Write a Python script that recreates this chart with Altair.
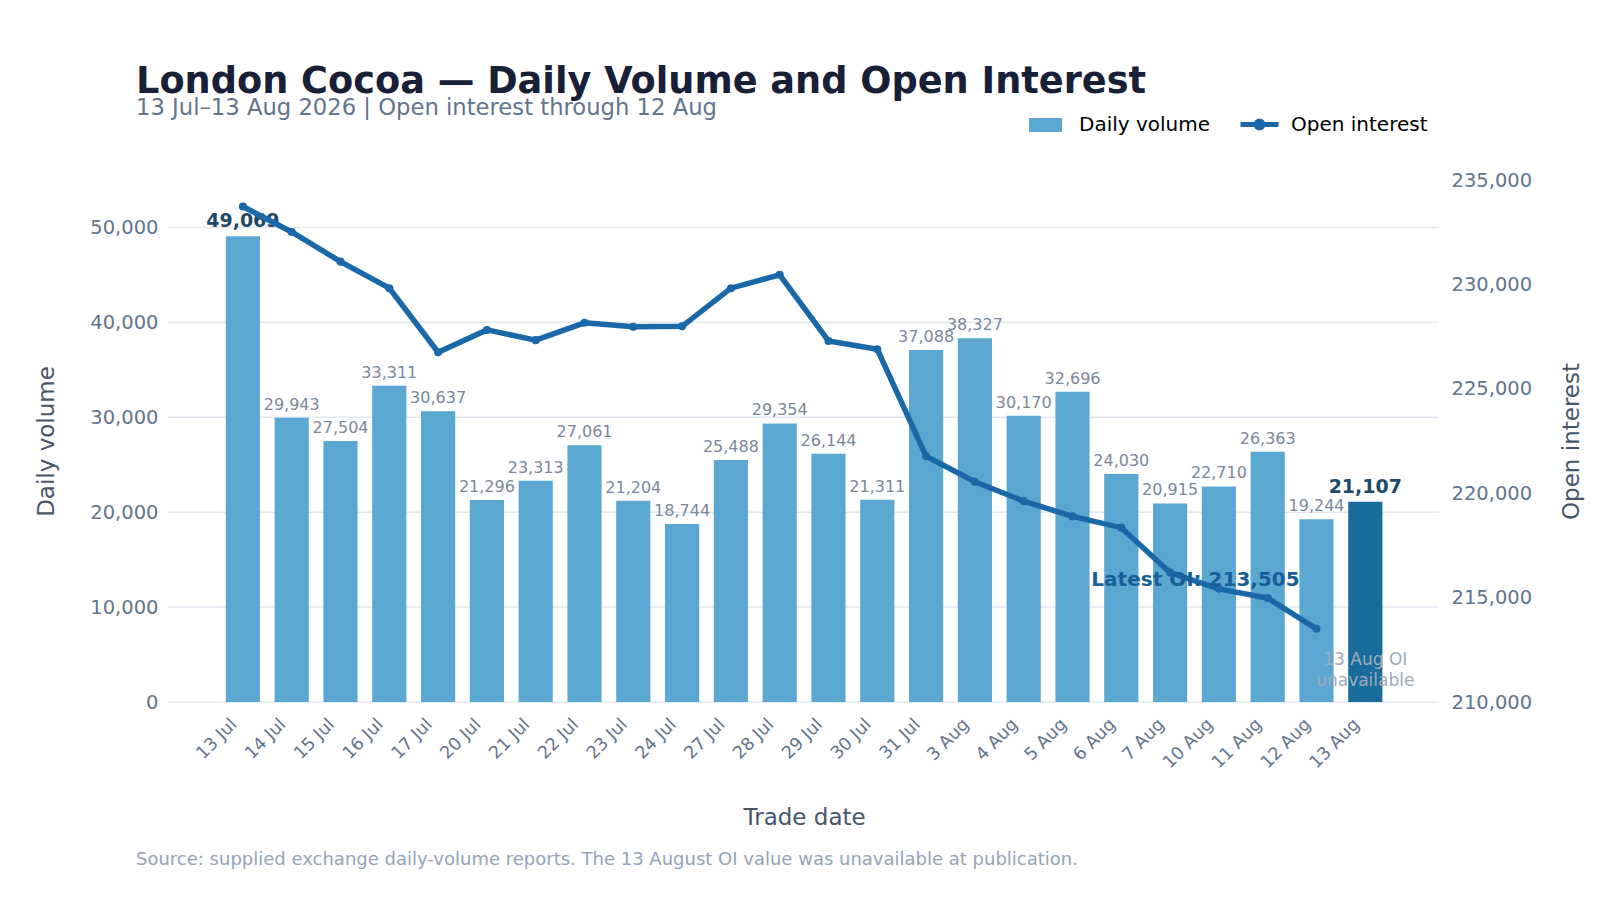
import altair as alt
import pandas as pd

dates = ["13 Jul", "14 Jul", "15 Jul", "16 Jul", "17 Jul", "20 Jul", "21 Jul", "22 Jul",
         "23 Jul", "24 Jul", "27 Jul", "28 Jul", "29 Jul", "30 Jul", "31 Jul", "3 Aug",
         "4 Aug", "5 Aug", "6 Aug", "7 Aug", "10 Aug", "11 Aug", "12 Aug", "13 Aug"]
volume = [49069, 29943, 27504, 33311, 30637, 21296, 23313, 27061, 21204, 18744, 25488, 29354,
          26144, 21311, 37088, 38327, 30170, 32696, 24030, 20915, 22710, 26363, 19244, 21107]
open_interest = [233730, 232510, 231090, 229820, 226750, 227820, 227330, 228160, 227970, 227990,
                 229820, 230460, 227290, 226890, 221770, 220550, 219620, 218890, 218350, 216200,
                 215420, 214980, 213505, None]
vol_ticks = [0, 10000, 20000, 30000, 40000, 50000]
oi_ticks = [210000, 215000, 220000, 225000, 230000, 235000]

TITLE = "London Cocoa — Daily Volume and Open Interest"
SUBTITLE = "13 Jul–13 Aug 2026 | Open interest through 12 Aug"
FOOTER = "Source: supplied exchange daily-volume reports. The 13 August OI value was unavailable at publication."

LIGHT = "#5aa8d2"
DARK = "#186c9b"
LINE = "#1b68a8"
AXIS_LBL = "#64748b"
AXIS_TTL = "#475569"
GRID = "#e2e8f0"

df = pd.DataFrame({
    "date": dates,
    "vol": volume,
    "oi": open_interest,
    "kind": ["Daily volume"] * (len(dates) - 1) + ["Latest volume"],
    "emph": [True] + [False] * (len(dates) - 2) + [True],
    "series": ["Open interest"] * len(dates),
})
grid_df = pd.DataFrame({"v": vol_ticks})

W, H = 1271, 522

x = alt.X("date:N", sort=dates,
          scale=alt.Scale(range=[50.5, 1221.7], paddingInner=0.3, paddingOuter=0.15),
          axis=alt.Axis(title="Trade date", labelAngle=-45, labelFontSize=17.5, labelColor=AXIS_LBL,
                        labelAlign="right", labelBaseline="alphabetic", labelPadding=23,
                        labelOffset=-5, ticks=False, domain=False, grid=False, titleFontSize=23,
                        titleColor=AXIS_TTL, titleFontWeight="normal", titleY=122,
                        titleBaseline="alphabetic"))

left_scale = alt.Scale(domain=[0, 55000], nice=False)
left_axis = alt.Axis(title="Daily volume", values=vol_ticks, format=",.0f", grid=False,
                     domain=False, ticks=False, labelPadding=10,
                     labelFontSize=19.5, labelColor=AXIS_LBL, titleFontSize=23,
                     titleColor=AXIS_TTL, titleFontWeight="normal", titleX=-122,
                     titleY=H / 2, titleBaseline="middle", titleAngle=270)
yL = alt.Y("vol:Q", scale=left_scale, axis=left_axis)

yR = alt.Y("oi:Q",
           scale=alt.Scale(domain=[210000, 235000], nice=False, zero=False),
           axis=alt.Axis(title="Open interest", orient="right", values=oi_ticks, format=",.0f",
                         grid=False, domain=False, ticks=False, labelPadding=12,
                         labelFontSize=19.5, labelColor=AXIS_LBL, titleFontSize=23,
                         titleColor=AXIS_TTL, titleFontWeight="normal", titleX=132,
                         titleY=H / 2, titleBaseline="middle", titleAngle=270))

RECT_PATH = "M-1,-0.42H1V0.42H-1Z"
LINE_PATH = "M-1,0H1M-0.18,0A0.18,0.18 0 1,0 0.18,0A0.18,0.18 0 1,0 -0.18,0"

base = alt.Chart(df)

grid = alt.Chart(grid_df).mark_rule(color=GRID, strokeWidth=1.5).encode(
    y=alt.Y("v:Q", scale=left_scale, axis=left_axis),
    x=alt.value(0), x2=alt.value(W),
)

bars = base.mark_bar().encode(
    x=x, y=yL,
    color=alt.Color("kind:N",
                    scale=alt.Scale(domain=["Daily volume", "Latest volume"], range=[LIGHT, DARK]),
                    legend=alt.Legend(title=None, orient="none", legendX=860, legendY=-72.5,
                                      values=["Daily volume"], symbolType=RECT_PATH,
                                      symbolSize=1089, labelFontSize=20, labelColor="#000000",
                                      labelOffset=16, padding=0)),
)

labels = base.transform_filter("!datum.emph").mark_text(
    dy=-13, fontSize=16, color="#7b8799"
).encode(x=x, y=yL, text=alt.Text("vol:Q", format=","))

labels_bold = base.transform_filter("datum.emph").mark_text(
    dy=-15, fontSize=19, fontWeight="bold", color="#1e4a6a"
).encode(x=x, y=yL, text=alt.Text("vol:Q", format=","))

na_note = base.transform_filter("datum.date == '13 Aug'").mark_text(
    lineBreak="\n", fontSize=17, color="#a0aab8", baseline="middle", lineHeight=21
).encode(x=x, y=alt.value(480), text=alt.value("13 Aug OI\nunavailable"))

footer = alt.Chart(pd.DataFrame({"t": [FOOTER]})).mark_text(
    align="left", fontSize=18, color="#94a3b8"
).encode(x=alt.value(-32), y=alt.value(680), text="t:N")

left = alt.layer(grid, bars, labels, labels_bold, na_note, footer)

oi_base = base.transform_filter("isValid(datum.oi)")

line = oi_base.mark_line(strokeWidth=5.5).encode(
    x=x, y=yR,
    stroke=alt.Stroke("series:N", scale=alt.Scale(domain=["Open interest"], range=[LINE]),
                      legend=alt.Legend(title=None, orient="none", legendX=1070, legendY=-77,
                                        symbolType=LINE_PATH, symbolSize=1444,
                                        symbolStrokeWidth=5, labelFontSize=20,
                                        labelColor="#000000", labelOffset=10, padding=0)),
)

pts = oi_base.mark_circle(size=65, opacity=1, color=LINE).encode(x=x, y=yR)

latest = oi_base.transform_filter("datum.date == '12 Aug'").transform_calculate(
    lab="'Latest OI: ' + format(datum.oi, ',')"
).mark_text(dx=-121, dy=-49, fontSize=20, fontWeight="bold", color="#185f98",
            baseline="middle").encode(x=x, y=yR, text="lab:N")

right = alt.layer(line, pts, latest)

chart = alt.layer(left, right).resolve_scale(y="independent").properties(
    width=W, height=H,
    title=alt.TitleParams(text=TITLE, subtitle=SUBTITLE, anchor="start", frame="group",
                          dx=-32, dy=21, fontSize=36.7, fontWeight="bold", color="#172036",
                          subtitleFontSize=22.7, subtitleColor=AXIS_LBL, subtitlePadding=-3),
    padding={"left": 160, "top": 172, "right": 150, "bottom": 180},
    autosize=alt.AutoSizeParams(type="none"),
).configure(font="DejaVu Sans").configure_view(stroke=None)

chart.save("out.html", embed_options={"renderer": "svg", "actions": False})
